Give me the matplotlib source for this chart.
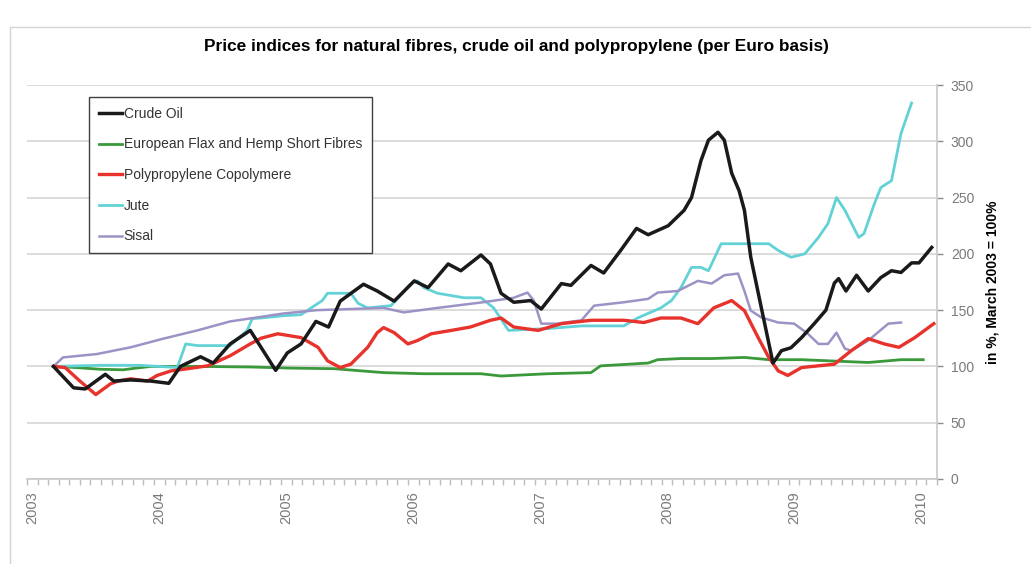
import numpy as np
import matplotlib
matplotlib.use('Agg')
import matplotlib.pyplot as plt
from matplotlib.patches import Rectangle

plt.rcParams['font.family'] = ['Liberation Sans', 'DejaVu Sans']

# --- data: x = months since January 2003, y = index (March 2003 = 100) ---
crude_m = [2, 3.9, 5, 6.9, 7.7, 9.3, 11.2, 12.9, 14.0, 15.9, 17.1, 18.7, 20.6, 23.0, 24.1,
           25.4, 26.8, 28.0, 29.1, 31.3, 32.6, 34.2, 36.1, 37.4, 39.3, 40.5, 42.4, 43.3,
           44.3, 45.5, 47.1, 48.1, 50.0, 50.9, 52.8, 54.0, 55.6, 57.1, 58.2, 60.1, 61.6,
           62.3, 63.2, 63.9, 64.8, 65.4, 66.1, 66.8, 67.3, 67.9, 68.9, 70.0, 70.8, 71.7,
           72.7, 73.9, 75.0, 75.8, 76.2, 76.9, 77.9, 79.0, 80.2, 81.2, 82.1, 83.1, 83.8, 85.0]
crude_v = [100, 81, 80, 93, 87, 88, 87, 85, 100, 108.6, 103, 120, 132, 96.5, 112,
           120, 140, 135, 158, 173, 167, 158, 176, 170, 191, 185, 199, 191,
           165, 157, 158.5, 151, 173.6, 172, 189.7, 183, 203, 222.6, 217, 225, 238.7,
           250, 283, 301, 308, 301, 271.6, 256, 238.7, 197, 152, 103, 114, 116.6,
           125.6, 138, 150, 174, 178, 167, 181, 167, 179, 185, 183.5, 192, 192, 205.7]

flax_m = [2, 4.1, 6.4, 8.6, 9.8, 11.2, 15.9, 20.6, 24.4, 28.5, 33.2, 37, 42.4, 44.3,
          48.7, 52.8, 53.7, 58.2, 59.1, 61.3, 64.2, 67.3, 69.6, 72.7, 79, 82.1, 84.2]
flax_v = [100, 99, 97.5, 97, 98.5, 100, 100, 99.5, 98.5, 98, 94.5, 93.5, 93.5, 91.5,
          93.5, 94.5, 100.5, 103, 106, 107, 107, 108, 106, 106, 103.5, 106, 106]

pp_m = [2, 3.1, 4.5, 6, 7.4, 8.1, 9.3, 10.9, 11.8, 13.1, 14.7, 16.6, 18.7, 20.6, 21.6,
        23.2, 25.4, 27, 27.9, 29.1, 30.1, 31.7, 32.6, 33.2, 34.2, 35.5, 36.4, 37.7,
        39.6, 41.4, 43.3, 44.3, 45.5, 47.8, 50, 52.8, 55.9, 57.8, 59.4, 61.3, 62.9,
        64.4, 66.1, 67.3, 68.6, 69.6, 70.5, 71.4, 72.7, 75.8, 77.4, 79, 80.5, 81.9,
        83.4, 85.2]
pp_v = [100, 99, 87, 75, 84.6, 87, 89, 87, 92, 96, 98, 100.6, 109.5, 120, 125,
        129, 125.6, 117, 105, 99, 102, 117, 130, 134.5, 130, 120, 123, 129,
        132, 135, 141, 143, 135, 132, 138, 141, 141, 139, 143, 143, 138,
        152, 158.5, 149.6, 125.6, 108, 96, 92, 99, 102, 114, 124.7, 120, 117,
        125.6, 138]

jute_m = [2, 6.4, 10.2, 13.7, 14.5, 15.6, 18.7, 20.3, 20.8, 21.6, 23.7, 25.4, 27.4,
          27.9, 30.1, 30.8, 31.7, 33.9, 35.8, 36.4, 37, 38.3, 40.8, 42.4, 43.6, 45,
          46.5, 48.7, 51.9, 55.9, 57.2, 59.4, 60.4, 61.3, 62.3, 63.2, 63.9, 65.1,
          69.6, 70.5, 71.7, 73, 74.3, 75.2, 76, 76.8, 78.1, 78.6, 79.6, 80.2, 81.2,
          82.1, 83.1]
jute_v = [100, 101, 101, 99, 120, 118.5, 118.5, 132, 142.5, 143, 145, 146, 158.5,
          165, 165, 156, 152, 154, 173.6, 176, 170, 165, 161, 161, 152, 132,
          132.7, 133.6, 136, 136, 143, 152, 158.5, 170, 188, 188, 185, 209,
          209, 203, 197, 200, 214.6, 227, 250, 238.7, 214.6, 218, 245, 259, 265,
          307, 334]

sisal_m = [2, 2.9, 6.1, 9.3, 12.4, 15.6, 18.7, 21.6, 23.7, 26.9, 30.1, 33.2, 35.1,
           38.3, 42.6, 45.5, 46.8, 47.4, 48.1, 49.6, 51.9, 53.1, 55.9, 58.2, 59.1,
           61, 62.9, 64.2, 65.4, 66.7, 67.3, 67.9, 68.9, 70.5, 72, 73.3, 74.3, 75.2,
           76, 76.8, 77.4, 79, 80.9, 82.1]
sisal_v = [100, 108, 111, 117, 124.7, 132, 140, 144, 147, 150, 151, 152, 148,
           152, 157, 161, 165.6, 158.5, 138, 138, 141, 154, 157, 160, 165.6,
           167, 176, 173.6, 181, 182.5, 167, 149.6, 143.5, 139, 138, 129, 120, 120,
           130, 115.8, 114, 123, 138, 139]

years = ['2003', '2004', '2005', '2006', '2007', '2008', '2009', '2010']

# --- figure ---
fig = plt.figure(figsize=(10.31, 5.64), dpi=100)
fig.patch.set_facecolor('white')

# outer chart frame (only left/top edges visible)
fig.patches.append(Rectangle((10 / 1031, -0.1), 1.2, 1.1 - 27 / 564,
                             transform=fig.transFigure, fill=False,
                             edgecolor='#d4d4d4', linewidth=1.0))

ax = fig.add_axes([27 / 1031, 1 - 479 / 564, 910 / 1031, 394 / 564])

grid_c = '#d9d9d9'
ax.plot(crude_m, crude_v, color='#1a1a1a', lw=2.5, label='Crude Oil', zorder=5,
        solid_joinstyle='round')
ax.plot(flax_m, flax_v, color='#3a993a', lw=2.0, label='European Flax and Hemp Short Fibres',
        zorder=3, solid_joinstyle='round')
ax.plot(pp_m, pp_v, color='#e8322c', lw=2.4, label='Polypropylene Copolymere', zorder=4,
        solid_joinstyle='round')
ax.plot(jute_m, jute_v, color='#62d2d6', lw=2.0, label='Jute', zorder=3,
        solid_joinstyle='round')
ax.plot(sisal_m, sisal_v, color='#9d92c6', lw=1.8, label='Sisal', zorder=3,
        solid_joinstyle='round')

ax.set_xlim(-0.5, 85.5)
ax.set_ylim(0, 350)

# y axis on the right
ax.yaxis.tick_right()
ax.yaxis.set_label_position('right')
ax.set_yticks(np.arange(0, 351, 50))
ax.tick_params(axis='y', colors='#8c8c8c', labelcolor='#7a7a7a', labelsize=10,
               length=4, width=1, pad=6)
ax.set_ylabel('in %, March 2003 = 100%', fontsize=10, fontweight='bold', labelpad=8)
ax.grid(axis='y', color=grid_c, lw=1.3)
ax.set_axisbelow(True)

# x axis: year labels, monthly minor ticks
ax.set_xticks(np.arange(0, 85, 12))
ax.set_xticklabels(years, rotation=90)
ax.set_xticks(np.arange(-0.5, 86, 1), minor=True)
ax.tick_params(axis='x', which='major', length=0, labelsize=10.5, labelcolor='#7a7a7a',
               pad=9)
ax.tick_params(axis='x', which='minor', length=4, color='#bdbdbd', width=1)

for s in ['left', 'top']:
    ax.spines[s].set_visible(False)
for s in ['right', 'bottom']:
    ax.spines[s].set_color('#c8c8c8')
    ax.spines[s].set_linewidth(1.2)

fig.text(516 / 1031, 1 - 47 / 564,
         'Price indices for natural fibres, crude oil and polypropylene (per Euro basis)',
         ha='center', va='center', fontsize=12.4, fontweight='bold')

leg = ax.legend(loc='upper left', bbox_to_anchor=(89 / 1031, 1 - 97 / 564),
                bbox_transform=fig.transFigure, borderaxespad=0, fontsize=10,
                handlelength=1.65, handletextpad=0.15, labelspacing=1.2,
                borderpad=0.7, fancybox=False, framealpha=1, edgecolor='#404040')
leg.get_frame().set_linewidth(1.0)
for t in leg.get_texts():
    t.set_color('#333333')

fig.savefig('out.png', dpi=100)
